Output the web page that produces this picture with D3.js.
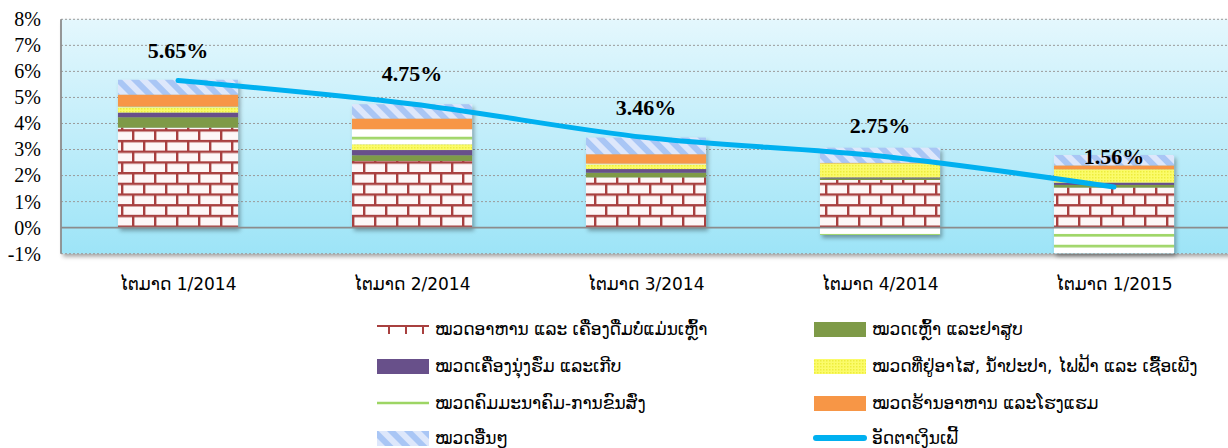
<!DOCTYPE html>
<html>
<head>
<meta charset="utf-8">
<script src="https://cdn.jsdelivr.net/npm/d3@7"></script>
<style>
  html, body { margin: 0; padding: 0; background: #fff; }
  svg { display: block; }
</style>
</head>
<body>
<svg id="chart"></svg>
<script>
// quarters
const categories = ["ໄຕມາດ 1/2014", "ໄຕມາດ 2/2014", "ໄຕມາດ 3/2014", "ໄຕມາດ 4/2014", "ໄຕມາດ 1/2015"];

// contribution of each group (percentage points)
const food = [3.84, 2.56, 1.93, 1.83, 1.54];
const tobacco = [0.40, 0.22, 0.18, 0.06, 0.10];
const clothing = [0.18, 0.20, 0.14, 0.04, 0.09];
const housing = [0.20, 0.22, 0.18, 0.54, 0.51];
const transport = [0.03, 0.58, 0.03, -0.28, -0.98];
const restaurants = [0.46, 0.41, 0.36, 0.02, 0.15];
const others = [0.57, 0.55, 0.64, 0.58, 0.40];

// headline inflation
const inflation = [5.65, 4.75, 3.46, 2.75, 1.56];

const yTicks = [-1, 0, 1, 2, 3, 4, 5, 6, 7, 8];

const seriesNames = [
  "ໝວດອາຫານ ແລະ ເຄື່ອງດື່ມບໍ່ແມ່ນເຫຼົ້າ",
  "ໝວດເຫຼົ້າ ແລະຢາສູບ",
  "ໝວດເຄື່ອງນຸ່ງຮົ່ມ ແລະເກີບ",
  "ໝວດທີ່ຢູ່ອາໄສ, ນໍ້າປະປາ, ໄຟຟ້າ ແລະ ເຊື້ອເພີງ",
  "ໝວດຄົມມະນາຄົມ-ການຂົນສົ່ງ",
  "ໝວດຮ້ານອາຫານ ແລະໂຮງແຮມ",
  "ໝວດອື່ນໆ"
];
const lineName = "ອັດຕາເງິນເຟີ້";

const width = 1228, height = 448;
const plot = { left: 61, right: 1231, top: 19.3, bottom: 253.7 };

const keys = ["food", "tobacco", "clothing", "housing", "transport", "restaurants", "others"];
const cols = { food, tobacco, clothing, housing, transport, restaurants, others };
const table = categories.map((c, i) => {
  const row = { cat: c };
  keys.forEach(k => (row[k] = cols[k][i]));
  return row;
});
const fills = {
  food: "url(#brick)",
  tobacco: "#7e9a47",
  clothing: "#68508a",
  housing: "url(#dots)",
  transport: "url(#stripes)",
  restaurants: "#f79646",
  others: "url(#hatch)"
};

const svg = d3.select("#chart").attr("width", width).attr("height", height)
  .attr("viewBox", [0, 0, width, height]);

const defs = svg.append("defs");

const grad = defs.append("linearGradient").attr("id", "bg")
  .attr("x1", 0).attr("y1", 0).attr("x2", 0).attr("y2", 1);
grad.append("stop").attr("offset", "0%").attr("stop-color", "#e4f7fd");
grad.append("stop").attr("offset", "100%").attr("stop-color", "#9de4f7");

const shadow = defs.append("filter").attr("id", "shadow")
  .attr("x", "-10%").attr("y", "-10%").attr("width", "130%").attr("height", "130%");
shadow.append("feDropShadow").attr("dx", 2).attr("dy", 3).attr("stdDeviation", 2)
  .attr("flood-color", "#000").attr("flood-opacity", 0.35);

// brick
const brick = defs.append("pattern").attr("id", "brick").attr("patternUnits", "userSpaceOnUse")
  .attr("width", 22).attr("height", 21.4).attr("y", 0.8);
brick.append("rect").attr("width", 22).attr("height", 21.4).attr("fill", "#fdf7f7");
brick.append("rect").attr("y", 0).attr("width", 22).attr("height", 2.4).attr("fill", "#a8403f");
brick.append("rect").attr("y", 10.7).attr("width", 22).attr("height", 2.4).attr("fill", "#a8403f");
brick.append("rect").attr("x", 0).attr("y", 0).attr("width", 2.4).attr("height", 10.7).attr("fill", "#a8403f");
brick.append("rect").attr("x", 11).attr("y", 10.7).attr("width", 2.4).attr("height", 10.7).attr("fill", "#a8403f");

// housing: yellow dots
const dots = defs.append("pattern").attr("id", "dots").attr("patternUnits", "userSpaceOnUse")
  .attr("width", 3).attr("height", 3);
dots.append("rect").attr("width", 3).attr("height", 3).attr("fill", "#fbfb6a");
dots.append("rect").attr("width", 1.5).attr("height", 1.5).attr("fill", "#eded3c");

// transport: light green stripes on white
const stripes = defs.append("pattern").attr("id", "stripes").attr("patternUnits", "userSpaceOnUse")
  .attr("width", 10).attr("height", 10.8).attr("y", 4.2);
stripes.append("rect").attr("width", 10).attr("height", 10.8).attr("fill", "#ffffff");
stripes.append("rect").attr("y", 3).attr("width", 10).attr("height", 2.6).attr("fill", "#9dd564");

// others: blue diagonal hatch
const hatch = defs.append("pattern").attr("id", "hatch").attr("patternUnits", "userSpaceOnUse")
  .attr("width", 12).attr("height", 12).attr("patternTransform", "rotate(-45)");
hatch.append("rect").attr("width", 12).attr("height", 12).attr("fill", "#dde7fb");
hatch.append("rect").attr("width", 6).attr("height", 12).attr("fill", "#a9c6f5");

const x = d3.scaleBand()
  .domain(categories)
  .range([plot.left, plot.right])
  .paddingInner(0.487)
  .paddingOuter(0.2435);

const y = d3.scaleLinear()
  .domain([-1, 8])
  .range([plot.bottom, plot.top]);

// plot background
svg.append("rect")
  .attr("x", plot.left).attr("y", plot.top)
  .attr("width", plot.right - plot.left).attr("height", plot.bottom - plot.top)
  .attr("fill", "url(#bg)")
  .attr("filter", "url(#shadow)");

// gridlines
svg.append("g")
  .selectAll("line")
  .data(yTicks.filter(d => d !== 0))
  .join("line")
  .attr("x1", plot.left).attr("x2", plot.right)
  .attr("y1", d => y(d)).attr("y2", d => y(d))
  .attr("stroke", "#9a9a9a")
  .attr("stroke-width", 1)
  .attr("stroke-dasharray", "2,2");

// y axis labels
svg.append("g")
  .attr("transform", `translate(${plot.left},0)`)
  .call(d3.axisLeft(y).tickValues(yTicks).tickFormat(d => d + "%").tickSize(0).tickPadding(20))
  .call(g => g.select(".domain").remove())
  .call(g => g.selectAll("text")
    .attr("font-family", "'Liberation Serif', 'Times New Roman', serif")
    .attr("font-size", 20)
    .attr("fill", "#000"));

// stacked bars
const stack = d3.stack().keys(keys).offset(d3.stackOffsetDiverging);
const layers = stack(table);

svg.append("g")
  .attr("filter", "url(#shadow)")
  .selectAll("g")
  .data(layers)
  .join("g")
  .attr("fill", d => fills[d.key])
  .selectAll("rect")
  .data(d => d)
  .join("rect")
  .attr("x", d => x(d.data.cat))
  .attr("y", d => y(Math.max(d[0], d[1])))
  .attr("height", d => Math.abs(y(d[0]) - y(d[1])))
  .attr("width", x.bandwidth());

// zero line and left axis line
svg.append("line")
  .attr("x1", plot.left).attr("x2", plot.right)
  .attr("y1", y(0)).attr("y2", y(0))
  .attr("stroke", "#8c8c8c").attr("stroke-width", 1.8);
svg.append("line")
  .attr("x1", plot.left).attr("x2", plot.left)
  .attr("y1", plot.top).attr("y2", plot.bottom)
  .attr("stroke", "#8c8c8c").attr("stroke-width", 1.8);

// inflation line
const line = d3.line()
  .x((d, i) => x(categories[i]) + x.bandwidth() / 2)
  .y(d => y(d))
  .curve(d3.curveCatmullRom.alpha(0.5));

svg.append("path")
  .datum(inflation)
  .attr("fill", "none")
  .attr("stroke", "#00b0f0")
  .attr("stroke-width", 5)
  .attr("stroke-linecap", "round")
  .attr("d", line);

// data labels
svg.append("g")
  .selectAll("text")
  .data(inflation)
  .join("text")
  .attr("x", (d, i) => x(categories[i]) + x.bandwidth() / 2)
  .attr("y", d => y(d) - 23)
  .attr("text-anchor", "middle")
  .attr("font-family", "'Liberation Serif', 'Times New Roman', serif")
  .attr("font-weight", "bold")
  .attr("font-size", 22)
  .attr("fill", "#000")
  .text(d => d.toFixed(2) + "%");

// x axis labels
svg.append("g")
  .attr("transform", `translate(0,${plot.bottom})`)
  .call(d3.axisBottom(x).tickSize(0).tickPadding(24))
  .call(g => g.select(".domain").remove())
  .call(g => g.selectAll("text")
    .attr("font-family", "'DejaVu Sans', sans-serif")
    .attr("font-size", 17)
    .attr("fill", "#000"));

// legend
const legendItems = seriesNames.map((n, i) => ({ name: n, key: keys[i] }))
  .concat([{ name: lineName, key: "line" }]);
const colX = [377, 814];
const rowY = [329, 366, 403, 438];

const legend = svg.append("g")
  .selectAll("g")
  .data(legendItems)
  .join("g")
  .attr("transform", (d, i) => `translate(${colX[i % 2]},${rowY[Math.floor(i / 2)]})`);

legend.each(function (d) {
  const g = d3.select(this);
  if (d.key === "line") {
    g.append("line").attr("x1", 2).attr("x2", 50).attr("y1", 0).attr("y2", 0)
      .attr("stroke", "#00b0f0").attr("stroke-width", 6).attr("stroke-linecap", "round");
  } else if (d.key === "transport") {
    g.append("line").attr("x1", 0).attr("x2", 52).attr("y1", 0).attr("y2", 0)
      .attr("stroke", "#9dd564").attr("stroke-width", 2.5);
  } else if (d.key === "food") {
    g.append("line").attr("x1", 0).attr("x2", 52).attr("y1", -3).attr("y2", -3)
      .attr("stroke", "#a8403f").attr("stroke-width", 2);
    [12, 29, 46].forEach(t => g.append("line").attr("x1", t).attr("x2", t)
      .attr("y1", -3).attr("y2", 5).attr("stroke", "#a8403f").attr("stroke-width", 2));
  } else {
    g.append("rect").attr("x", 0).attr("y", -7).attr("width", 52).attr("height", 15)
      .attr("fill", fills[d.key]);
  }
  g.append("text")
    .attr("x", 58).attr("y", 0).attr("dy", "0.35em")
    .attr("font-family", "'DejaVu Sans', sans-serif")
    .attr("font-size", 17)
    .attr("fill", "#000")
    .text(d.name);
});
</script>
</body>
</html>
